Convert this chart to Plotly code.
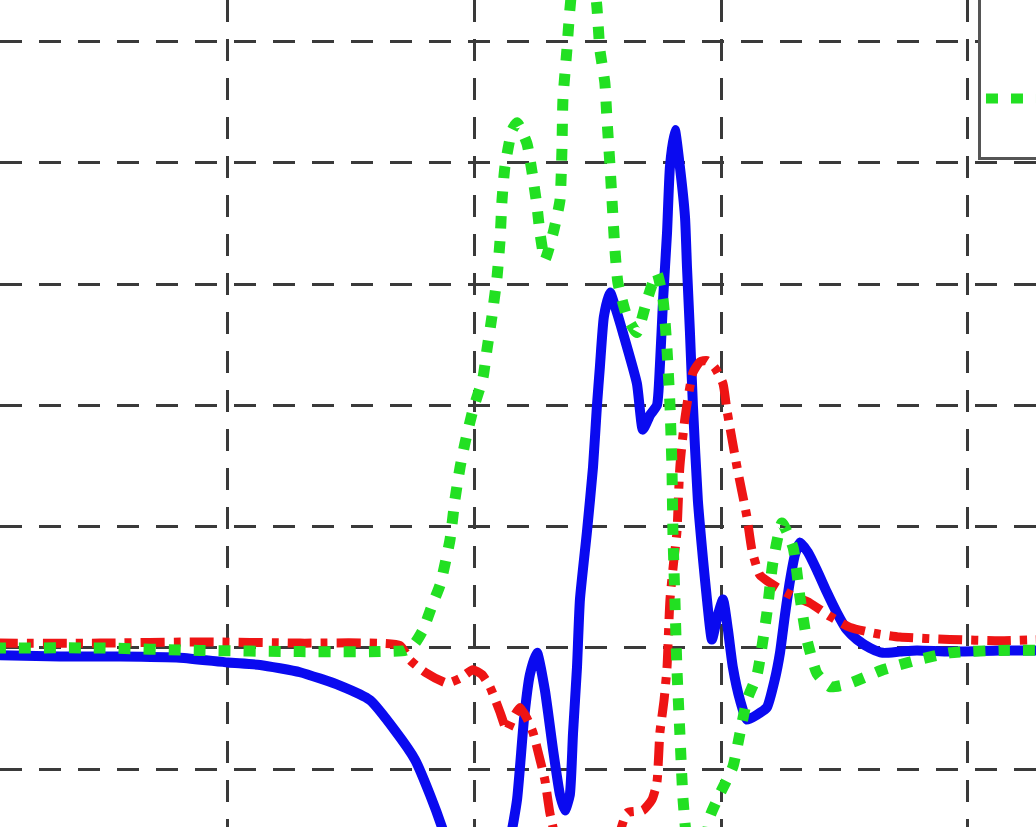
import plotly.graph_objects as go

# x in samples (grid every 100), y in grid units (grid every 1)
blue_x = [5, 31.9, 56.2, 80.5, 100, 113.0, 129.2, 145.4, 157.6, 167.7, 175.8, 181.9, 186.8, 192.0, 200.1,
          208.2, 214.3, 217.2, 220.0, 222.4, 225.3, 228.5, 231.8, 234.6, 236.6, 238.6, 239.9, 241.5, 242.7,
          245.5, 248.0, 249.6, 250.8, 252.4, 254.9, 257.3, 260.1, 265.8, 268.2, 271.1, 273.9, 275.1, 276.4,
          278.0, 279.2, 281.2, 283.2, 285.3, 286.1, 287.3, 288.5, 290.5, 292.6, 294.2, 296.2, 298.6, 300.7,
          302.7, 304.7, 307.6, 310.4, 314.5, 318.5, 321.7, 323.8, 325.8, 327.9, 329.9, 331.9, 335.1, 338.8,
          342.8, 346.9, 350.9, 355.0, 360.3, 365.5, 372.4, 379.3, 392.7, 413.0, 430]
blue_y = [-0.06, -0.07, -0.07, -0.08, -0.12, -0.14, -0.20, -0.31, -0.43, -0.68, -0.92, -1.21, -1.48, -1.83, -2.08,
          -1.91, -1.58, -1.25, -0.59, -0.22, -0.04, -0.35, -0.84, -1.21, -1.34, -1.21, -0.70, -0.16, 0.40,
          0.95, 1.49, 2.00, 2.32, 2.73, 2.93, 2.79, 2.60, 2.18, 1.80, 1.92, 2.00, 2.32, 2.87,
          3.42, 3.97, 4.27, 3.97, 3.55, 3.14, 2.60, 2.00, 1.22, 0.73, 0.40, 0.07, 0.27, 0.40,
          0.15, -0.16, -0.43, -0.59, -0.55, -0.49, -0.26, -0.04, 0.27, 0.56, 0.77, 0.87, 0.79, 0.64,
          0.46, 0.29, 0.15, 0.07, 0.00, -0.04, -0.03, -0.02, -0.03, -0.02, -0.02]

red_x = [5, 48.1, 88.6, 129.2, 169.7, 173.8, 179.9, 188.8, 194.1, 199.3, 203.0, 206.2, 210.3, 213.1, 215.5,
         218.4, 221.2, 223.7, 226.5, 228.5, 230.5, 233.0, 240.7, 250.8, 256.9, 261.8, 268.2, 271.9, 273.9,
         275.1, 276.8, 278.0, 279.2, 280.8, 282.0, 283.2, 285.3, 288.5, 291.4, 294.2, 297.4, 300.7, 302.3,
         306.4, 310.4, 312.4, 315.7, 322.6, 327.9, 336.0, 344.1, 352.2, 362.3, 372.4, 392.7, 413.0, 430]
red_y = [0.04, 0.04, 0.05, 0.04, 0.02, -0.10, -0.20, -0.29, -0.25, -0.18, -0.22, -0.32, -0.53, -0.68, -0.58,
         -0.49, -0.58, -0.70, -0.92, -1.09, -1.36, -1.58, -2.08, -2.08, -1.67, -1.36, -1.34, -1.25, -1.11,
         -0.70, -0.43, -0.16, 0.40, 0.73, 0.95, 1.49, 1.90, 2.27, 2.36, 2.37, 2.31, 2.18, 1.96,
         1.49, 1.08, 0.81, 0.60, 0.50, 0.44, 0.37, 0.26, 0.17, 0.12, 0.09, 0.07, 0.06, 0.07]

green_x = [5, 48.1, 88.6, 129.2, 161.6, 171.8, 175.8, 179.1, 183.1, 186.0, 190.0, 192.0, 194.1, 196.1, 199.3,
           203.4, 205.0, 207.0, 209.1, 210.3, 211.1, 212.3, 215.2, 217.2, 221.2, 223.3, 225.3, 226.5, 228.5,
           231.8, 234.6, 235.4, 235.8, 237.4, 238.6, 240.7, 244.7, 248.0, 249.6, 250.8, 252.8, 253.6, 254.9,
           255.7, 256.9, 258.1, 261.8, 265.8, 269.9, 273.9, 276.4, 278.0, 279.2, 280.0, 280.4, 281.2, 282.0,
           283.2, 284.5, 286.5, 290.1, 293.4, 295.4, 299.5, 304.7, 307.6, 310.4, 314.5, 318.5, 320.9, 324.6,
           329.1, 331.9, 334.7, 338.8, 344.1, 352.2, 365.5, 379.3, 392.7, 413.0, 430]
green_y = [0.00, 0.00, -0.02, -0.03, -0.03, -0.02, 0.04, 0.15, 0.37, 0.52, 0.89, 1.22, 1.49, 1.69, 1.96,
           2.23, 2.46, 2.73, 3.06, 3.36, 3.69, 3.97, 4.27, 4.33, 4.16, 3.92, 3.64, 3.42, 3.20,
           3.42, 3.69, 4.11, 4.52, 4.93, 5.26, 5.67, 6.00, 5.59, 5.28, 4.93, 4.66, 4.38, 3.97,
           3.69, 3.28, 3.01, 2.73, 2.60, 2.87, 3.09, 2.87, 2.46, 2.00, 1.49, 0.95, 0.40, -0.16,
           -0.70, -1.25, -1.67, -1.91, -1.67, -1.39, -1.20, -0.98, -0.70, -0.43, -0.22, 0.29, 0.70, 1.03,
           0.83, 0.42, 0.07, -0.21, -0.32, -0.29, -0.18, -0.10, -0.04, -0.02, -0.02]

names = ["Signal 1", "Signal 2", "Signal 3"]

fig = go.Figure()
fig.add_trace(go.Scatter(x=blue_x, y=blue_y, mode="lines", name=names[0],
                         line=dict(color="#0a0af0", width=10, shape="spline", smoothing=0.5)))
fig.add_trace(go.Scatter(x=red_x, y=red_y, mode="lines", name=names[1],
                         line=dict(color="#ee1414", width=9, dash="24px,9px,7px,9px", shape="spline", smoothing=0.5)))
fig.add_trace(go.Scatter(x=green_x, y=green_y, mode="lines", name=names[2],
                         line=dict(color="#22e022", width=11, dash="12px,13px", shape="spline", smoothing=0.5)))

grid = dict(showgrid=True, gridcolor="#3a3a3a", gridwidth=2.5, griddash="22px,17px",
            zeroline=False, showticklabels=False, ticks="", showline=False)
fig.update_xaxes(range=[7.57, 427.6], tick0=0, dtick=100, **grid)
fig.update_yaxes(range=[-1.476, 5.342], tick0=0, dtick=1, **grid)

fig.update_layout(
    width=1036, height=827,
    margin=dict(l=0, r=0, t=0, b=0, pad=0, autoexpand=False),
    paper_bgcolor="white", plot_bgcolor="white",
    showlegend=True,
    legend=dict(x=0.944, xanchor="left", y=1 - 160 / 827, yanchor="bottom",
                bgcolor="white", bordercolor="#555555", borderwidth=3, itemwidth=80,
                font=dict(family="DejaVu Sans", size=80, color="black")),
)
fig.write_html("out.html", config={"displayModeBar": False},
               post_script="document.body.style.margin='0';document.body.style.overflow='hidden';")
